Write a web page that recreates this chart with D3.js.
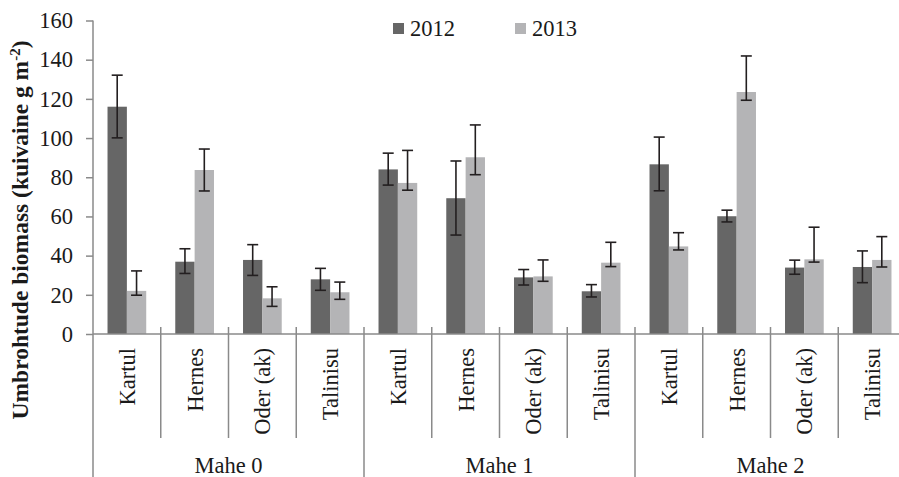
<!DOCTYPE html>
<html>
<head>
<meta charset="utf-8">
<script src="https://cdn.jsdelivr.net/npm/d3@7/dist/d3.min.js"></script>
</head>
<body style="margin:0">
<svg id="chart" width="899" height="477" font-family="Liberation Serif"></svg>
<script>
// Umbrohtude biomass by culture and plot, two seasons
const groups = ["Mahe 0", "Mahe 1", "Mahe 2"];
const crops = ["Kartul", "Hernes", "Oder (ak)", "Talinisu"];
const years = ["2012", "2013"];

const values2012 = [116.0, 36.9, 37.8, 27.9, 84.0, 69.3, 28.9, 21.8, 86.6, 60.1, 33.9, 34.2];
const values2013 = [22.0, 83.7, 18.2, 21.3, 77.1, 90.2, 29.4, 36.4, 44.7, 123.5, 38.1, 37.8];

// error bar extents (above / below the bar top)
const errUp2012 = [16.1, 6.6, 7.8, 5.6, 8.3, 19.0, 4.0, 3.4, 13.9, 3.1, 3.8, 8.2];
const errDown2012 = [15.9, 6.0, 7.9, 5.6, 8.0, 18.8, 3.9, 2.9, 13.5, 2.9, 3.4, 8.0];
const errUp2013 = [10.2, 10.7, 5.9, 5.2, 16.6, 16.5, 8.4, 10.4, 7.0, 18.4, 16.4, 11.9];
const errDown2013 = [2.2, 10.7, 4.1, 3.6, 3.7, 8.9, 2.5, 2.0, 1.8, 4.2, 1.4, 3.6];

const yTicks = [0, 20, 40, 60, 80, 100, 120, 140, 160];

const colors = { "2012": "#666666", "2013": "#b4b4b6" };
const axisColor = "#8a8a8a";
const errColor = "#231f20";
const textColor = "#1a1a1a";
const FONT = "Liberation Serif";

// apply the serif face both as attribute and inline style
function serifText(sel, size, weight) {
  return sel.attr("font-family", FONT).style("font-family", FONT)
    .attr("font-size", size).style("font-size", size + "px")
    .attr("font-weight", weight || "normal").style("font-weight", weight || "normal")
    .attr("fill", textColor).style("fill", textColor);
}

const rows = [];
groups.forEach((g, gi) => crops.forEach((c, ci) => {
  const i = gi * crops.length + ci;
  rows.push({
    key: g + "|" + c, group: g, crop: c,
    series: [
      { year: "2012", v: values2012[i], up: errUp2012[i], down: errDown2012[i] },
      { year: "2013", v: values2013[i], up: errUp2013[i], down: errDown2013[i] }
    ]
  });
}));

const svg = d3.select("#chart").style("font-family", FONT);
const plotLeft = 93, plotRight = 906, plotTop = 20.5, plotBottom = 334;

const x = d3.scaleBand().domain(rows.map(r => r.key)).range([plotLeft, plotRight]).paddingInner(0).paddingOuter(0);
const bw = x.bandwidth();
// two bars with a gap of 150% of one bar width
const barW = bw / 3.5;
const x1 = d3.scaleBand().domain(years).range([barW * 0.75, bw - barW * 0.75]).padding(0);
const y = d3.scaleLinear().domain([0, 160]).range([plotBottom, plotTop]);

// bars
const cat = svg.append("g").selectAll("g").data(rows).join("g")
  .attr("transform", d => `translate(${x(d.key)},0)`);

cat.selectAll("rect").data(d => d.series).join("rect")
  .attr("x", s => x1(s.year))
  .attr("width", x1.bandwidth())
  .attr("y", s => y(s.v))
  .attr("height", s => y(0) - y(s.v))
  .attr("fill", s => colors[s.year]);

// error bars
const eb = cat.selectAll("g.err").data(d => d.series).join("g").attr("class", "err")
  .attr("transform", s => `translate(${x1(s.year) + x1.bandwidth() / 2},0)`);
eb.append("line")
  .attr("y1", s => y(s.v + s.up)).attr("y2", s => y(s.v - s.down))
  .attr("stroke", errColor).attr("stroke-width", 1.6);
eb.append("line")
  .attr("x1", -5.5).attr("x2", 5.5)
  .attr("y1", s => y(s.v + s.up)).attr("y2", s => y(s.v + s.up))
  .attr("stroke", errColor).attr("stroke-width", 1.6);
eb.append("line")
  .attr("x1", -5.5).attr("x2", 5.5)
  .attr("y1", s => y(s.v - s.down)).attr("y2", s => y(s.v - s.down))
  .attr("stroke", errColor).attr("stroke-width", 1.6);

// y axis
const yAxis = svg.append("g")
  .attr("transform", `translate(${plotLeft},0)`)
  .call(d3.axisLeft(y).tickValues(yTicks).tickSize(7).tickPadding(13).tickSizeOuter(0));
yAxis.attr("font-family", FONT).attr("font-size", null);
yAxis.select(".domain").remove();
yAxis.selectAll(".tick line").attr("stroke", axisColor).attr("stroke-width", 1.5);
serifText(yAxis.selectAll(".tick text"), 22.5);
svg.append("line").attr("x1", plotLeft).attr("x2", plotLeft).attr("y1", plotTop).attr("y2", 477)
  .attr("stroke", axisColor).attr("stroke-width", 1.5);

// x axis line
svg.append("line").attr("x1", plotLeft).attr("x2", plotRight).attr("y1", y(0)).attr("y2", y(0))
  .attr("stroke", axisColor).attr("stroke-width", 1.5);

// category separators
rows.forEach((r, i) => {
  const xe = x(r.key) + bw;
  const groupEnd = (i + 1) % crops.length === 0;
  svg.append("line").attr("x1", xe).attr("x2", xe)
    .attr("y1", y(0) - 7).attr("y2", groupEnd ? 477 : 438)
    .attr("stroke", axisColor).attr("stroke-width", 1.5);
});

// category labels
serifText(svg.append("g").selectAll("text").data(rows).join("text"), 22.5)
  .attr("transform", d => `translate(${x(d.key) + bw / 2 + 8},348) rotate(-90)`)
  .attr("text-anchor", "end")
  .text(d => d.crop);

// group labels
serifText(svg.append("g").selectAll("text").data(groups).join("text"), 22.5)
  .attr("x", g => x(g + "|" + crops[0]) + bw * crops.length / 2)
  .attr("y", 473)
  .attr("text-anchor", "middle")
  .text(g => g);

// y axis title
const title = serifText(svg.append("text"), 23.5, "bold")
  .attr("transform", "translate(28,230) rotate(-90)")
  .attr("text-anchor", "middle");
title.append("tspan").text("Umbrohtude biomass (kuivaine g m");
title.append("tspan").attr("font-size", 15).style("font-size", "15px").attr("dy", -8).text("-2");
title.append("tspan").attr("dy", 8).text(")");

// legend
const legendX = [393, 515];
const legend = svg.append("g").selectAll("g").data(years).join("g")
  .attr("transform", (d, i) => `translate(${legendX[i]},23)`);
legend.append("rect").attr("width", 11).attr("height", 11).attr("fill", d => colors[d]);
serifText(legend.append("text"), 22.5).attr("x", 17).attr("y", 13).text(d => d);
</script>
</body>
</html>
